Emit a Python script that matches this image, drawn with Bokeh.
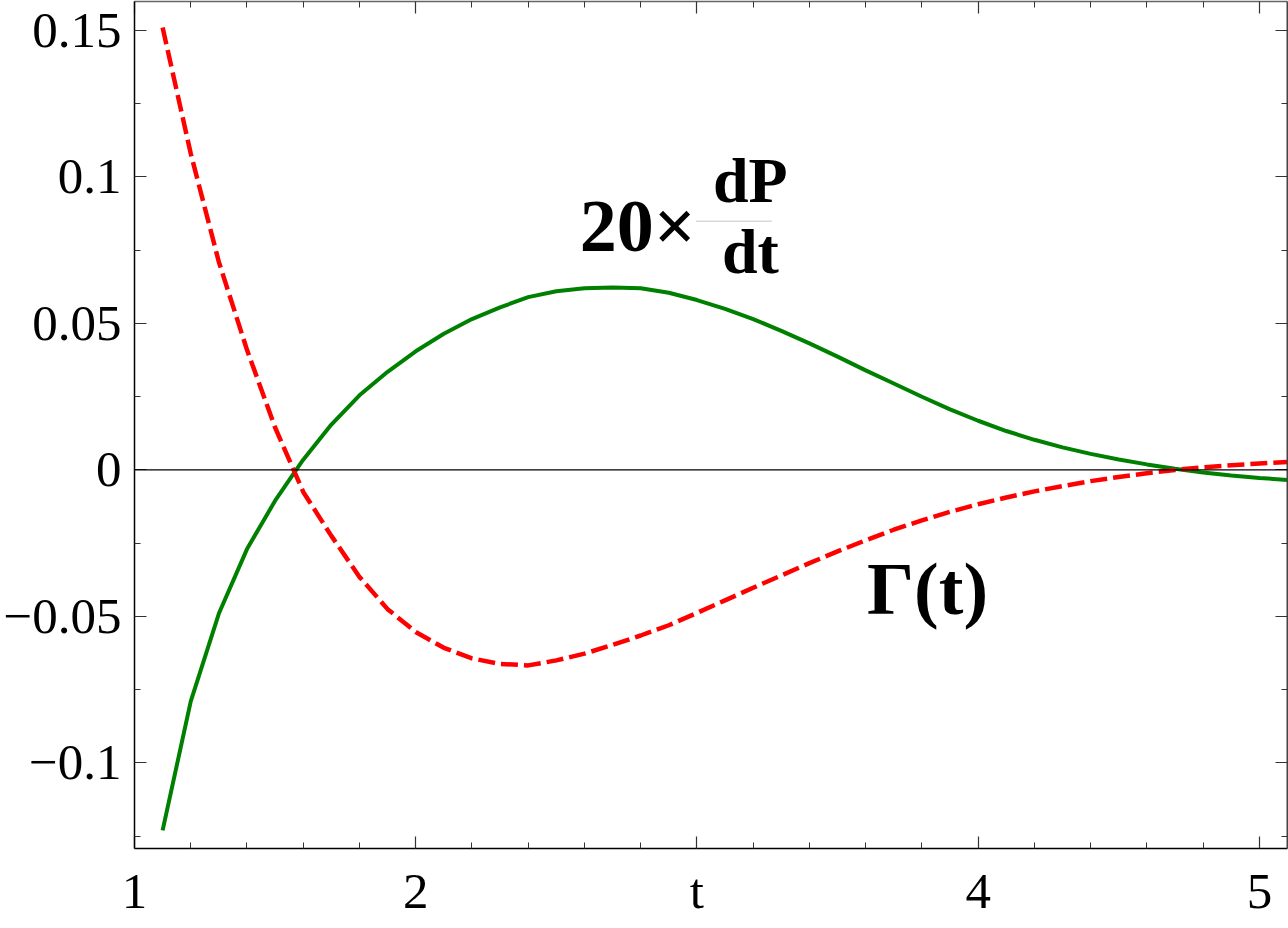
from bokeh.plotting import figure
from bokeh.models import (LinearAxis, FixedTicker, Span, Label, Range1d)
from bokeh.embed import file_html
from bokeh.resources import INLINE

# ---- data ----
t_vals = [1.1, 1.2, 1.3, 1.4, 1.5, 1.6, 1.7, 1.8, 1.9, 2.0,
          2.1, 2.2, 2.3, 2.4, 2.5, 2.6, 2.7, 2.8, 2.9, 3.0,
          3.1, 3.2, 3.3, 3.4, 3.5, 3.6, 3.7, 3.8, 3.9, 4.0,
          4.1, 4.2, 4.3, 4.4, 4.5, 4.6, 4.7, 4.8, 4.9, 5.0, 5.1]

dPdt_x20 = [-0.123, -0.079, -0.049, -0.027, -0.0105, 0.0035, 0.0155, 0.0255, 0.0335, 0.0405,
            0.0465, 0.0515, 0.0555, 0.059, 0.061, 0.062, 0.0623, 0.062, 0.0605, 0.058,
            0.055, 0.0515, 0.0475, 0.0432, 0.0387, 0.034, 0.0295, 0.025, 0.0207, 0.0168,
            0.0133, 0.0103, 0.0077, 0.0055, 0.0036, 0.0019, 0.0004, -0.0009, -0.0019, -0.0027, -0.0034]

gamma = [0.151, 0.108, 0.071, 0.041, 0.0145, -0.0075, -0.0225, -0.0365, -0.0475, -0.0553,
         -0.0607, -0.0643, -0.0662, -0.0667, -0.065, -0.0627, -0.0597, -0.0565, -0.053, -0.0488,
         -0.0445, -0.0402, -0.036, -0.0318, -0.0278, -0.024, -0.0204, -0.0172, -0.0143, -0.0117,
         -0.0094, -0.0073, -0.0055, -0.0038, -0.0024, -0.0011, 0.0, 0.0009, 0.0016, 0.0022, 0.0027]

x_major = [1, 2, 3, 4, 5]
x_minor = [1.2, 1.4, 1.6, 1.8, 2.2, 2.4, 2.6, 2.8, 3.2, 3.4, 3.6, 3.8, 4.2, 4.4, 4.6, 4.8, 5.2]
x_labels = {1: "1", 2: "2", 3: "t", 4: "4", 5: "5"}

y_major = [-0.1, -0.05, 0, 0.05, 0.1, 0.15]
y_minor = [-0.125, -0.075, -0.025, 0.025, 0.075, 0.125]
y_labels = {-0.1: "\u22120.1", -0.05: "\u22120.05", 0: "0", 0.05: "0.05", 0.1: "0.1", 0.15: "0.15"}

FONT = "Liberation Serif"

p = figure(width=1288, height=928, output_backend="svg", toolbar_location=None,
           x_range=Range1d(1.0, 5.1), y_range=Range1d(-0.1292, 0.1599),
           x_axis_type=None, y_axis_type=None,
           min_border_left=132, min_border_right=1, min_border_top=1, min_border_bottom=80)
p.outline_line_color = None
p.xgrid.visible = False
p.ygrid.visible = False
p.background_fill_color = "white"
p.border_fill_color = "white"


def style_axis(ax, labels, show_labels, color="black"):
    ax.axis_line_color = color
    ax.axis_line_width = 1.5
    ax.major_tick_in = 12
    ax.major_tick_out = 0
    ax.minor_tick_in = 6
    ax.minor_tick_out = 0
    ax.major_tick_line_color = "#333333"
    ax.minor_tick_line_color = "#333333"
    ax.major_tick_line_width = 1.2
    ax.minor_tick_line_width = 1.0
    if show_labels:
        ax.major_label_overrides = labels
        ax.major_label_text_font = FONT
        ax.major_label_text_font_size = "51px"
        ax.major_label_text_color = "black"
    else:
        ax.major_label_text_font_size = "1px"
        ax.major_label_text_color = None
        ax.major_label_standoff = 0


xt = FixedTicker(ticks=x_major, minor_ticks=x_minor)
yt = FixedTicker(ticks=y_major, minor_ticks=y_minor)

bottom = LinearAxis(ticker=xt)
style_axis(bottom, x_labels, True)
bottom.major_label_standoff = 14
p.add_layout(bottom, "below")

left = LinearAxis(ticker=yt)
style_axis(left, y_labels, True)
left.major_label_standoff = 13
p.add_layout(left, "left")

top = LinearAxis(ticker=FixedTicker(ticks=x_major, minor_ticks=x_minor))
style_axis(top, x_labels, False, color="#666666")
p.add_layout(top, "above")

right = LinearAxis(ticker=FixedTicker(ticks=y_major, minor_ticks=y_minor))
style_axis(right, y_labels, False, color="#444444")
right.axis_line_width = 2
p.add_layout(right, "right")

p.add_layout(Span(location=0, dimension="width", line_color="black", line_width=1.2))

p.line(t_vals, dPdt_x20, line_color="#008000", line_width=4)
p.line(t_vals, gamma, line_color="#ff0000", line_width=4.5, line_dash="17 6")

lab_kw = dict(text_font=FONT, text_font_style="bold", text_color="black",
              text_baseline="alphabetic", text_align="center")
p.add_layout(Label(x=2.79, y=0.0832, text="20\u00d7", text_font_size="74px", **lab_kw))
p.add_layout(Label(x=3.19, y=0.0988, text="dP", text_font_size="64px", **lab_kw))
p.add_layout(Label(x=3.19, y=0.0746, text="dt", text_font_size="64px", **lab_kw))
p.segment(x0=[2.997], y0=[0.0849], x1=[3.266], y1=[0.0849], line_color="#d8d8d8", line_width=1.5)
p.add_layout(Label(x=3.82, y=-0.0406, text="\u0393(t)", text_font_size="74px", **lab_kw))

open("out.html", "w").write(file_html(p, INLINE))
